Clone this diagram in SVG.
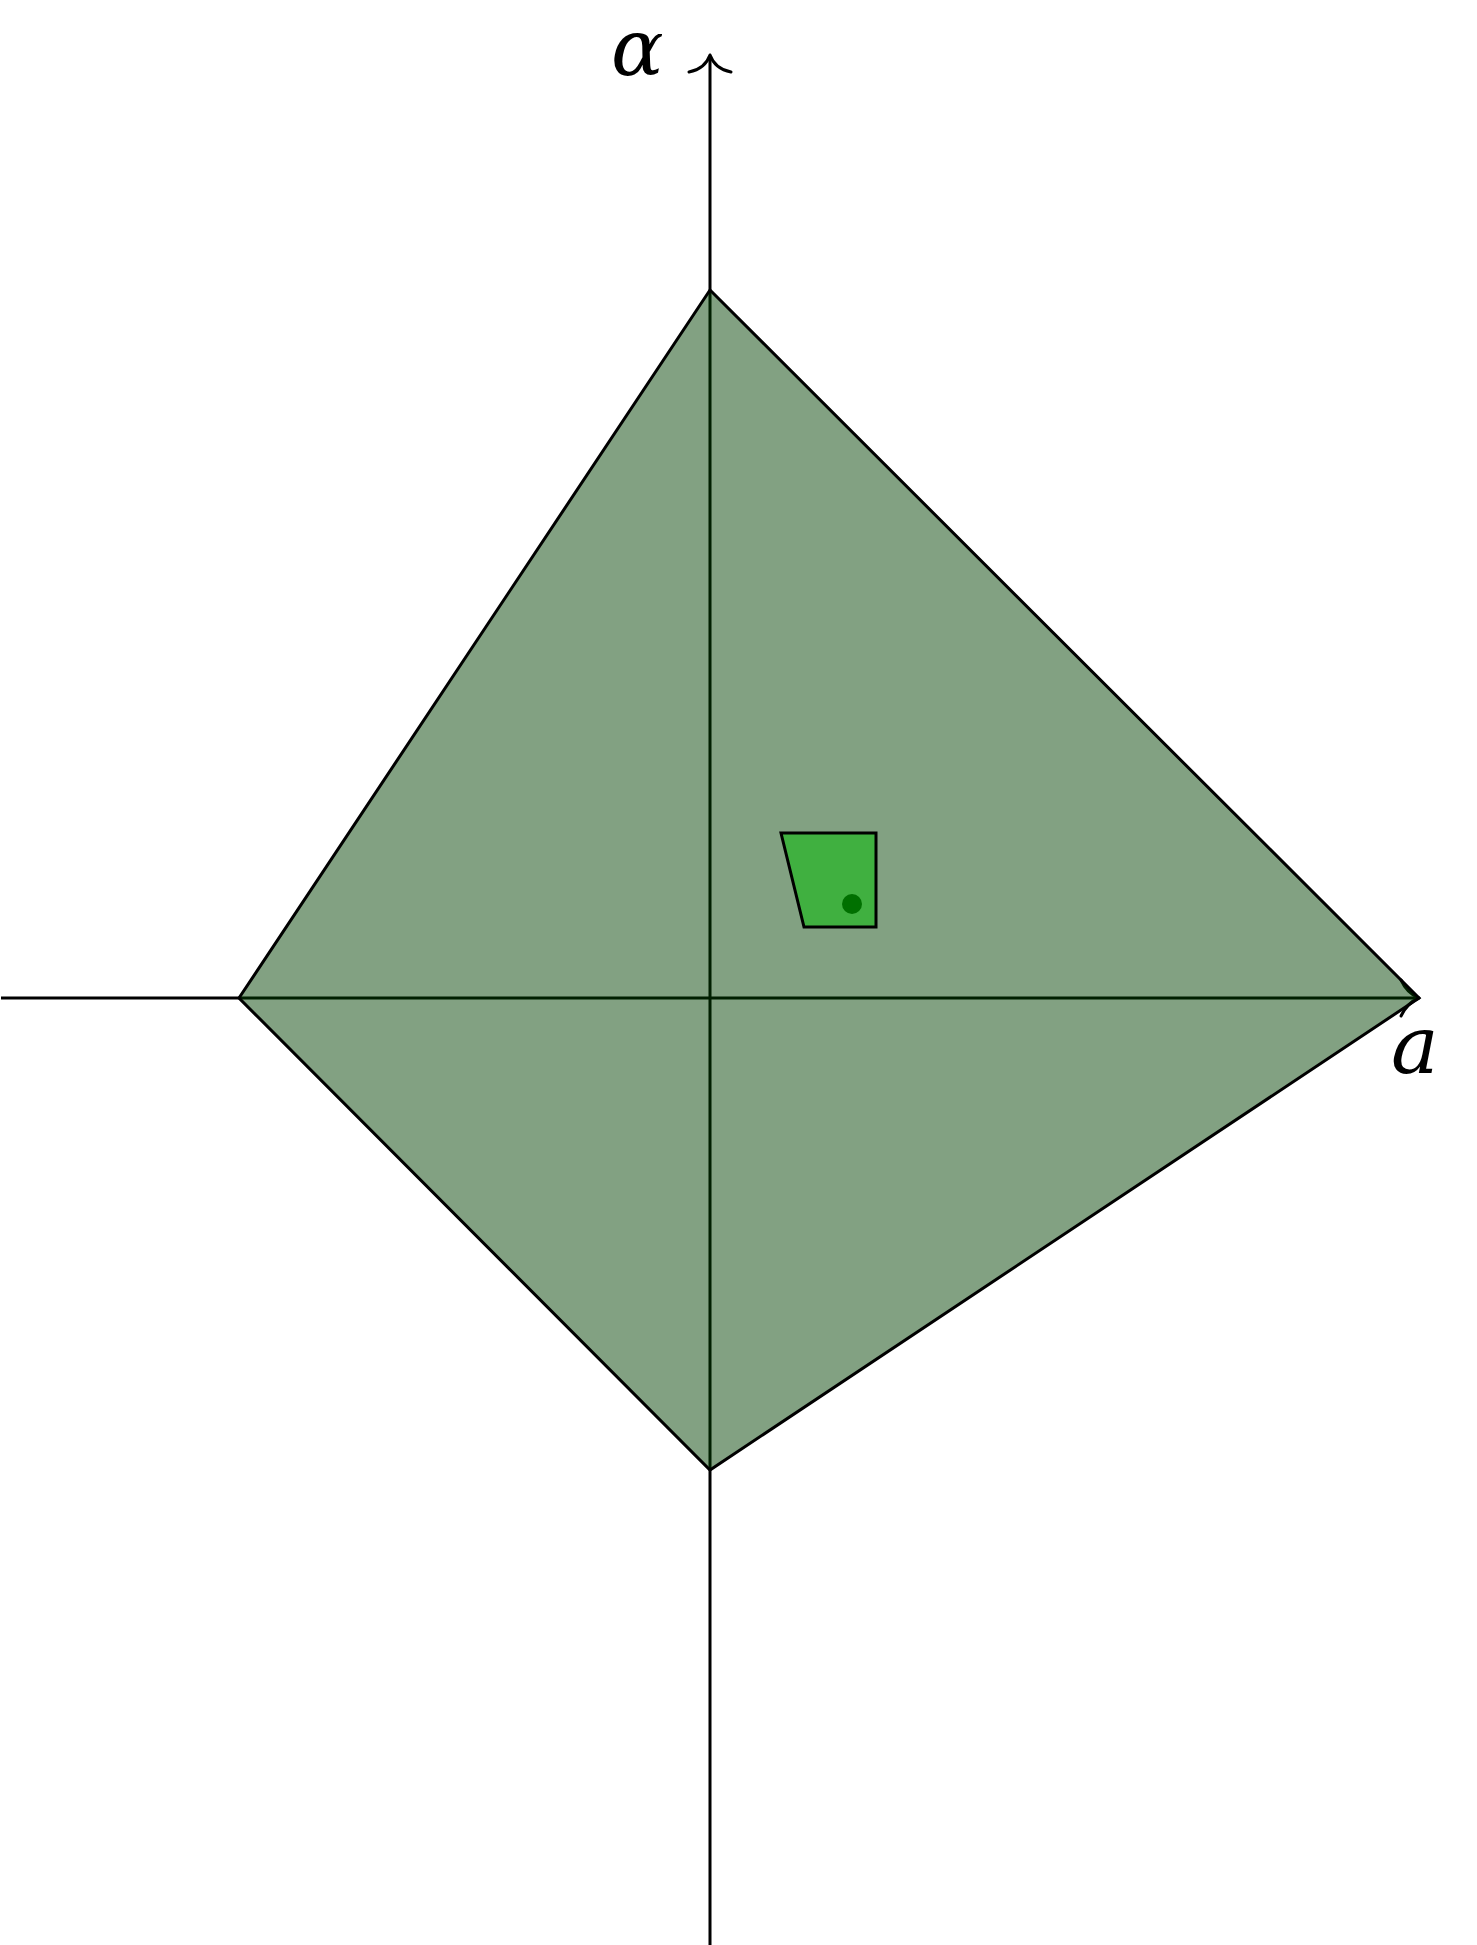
<svg xmlns="http://www.w3.org/2000/svg" width="1477" height="1945" viewBox="0 0 1477 1945">
<style>
.ax{stroke:#000;stroke-width:3;fill:none}
.lbl{font-family:"DejaVu Serif","Liberation Serif",serif;font-style:italic;fill:#000}
</style>
<rect width="1477" height="1945" fill="#fff"/>
<g id="connectors">
<line class="ax" x1="1" y1="998" x2="1418" y2="998"/>
<line class="ax" x1="710" y1="1945" x2="710" y2="57"/>
<path class="ax" stroke-linecap="round" stroke-linejoin="round" d="M689,72 Q705,69 710,55 Q715,69 731,72"/>
<path class="ax" stroke-linecap="round" stroke-linejoin="round" d="M1401,980 Q1407,993 1419,998 Q1407,1003 1401,1016"/>
</g>
<g id="region">
<polygon points="710,290 1419,998 710,1470 239,998" fill="rgb(0,64,0)" fill-opacity="0.49" stroke="#000" stroke-width="3" stroke-linejoin="miter"/>
</g>
<g id="cell">
<polygon points="781,833 876,833 876,927 804,927" fill="#40b040" stroke="#000" stroke-width="3"/>
<circle cx="852" cy="904" r="10" fill="#007000"/>
</g>
<g id="label-alpha"><text class="lbl" x="611" y="75" font-size="78">α</text></g>
<g id="label-a"><text class="lbl" x="1391" y="1073" font-size="80">a</text></g>
</svg>
